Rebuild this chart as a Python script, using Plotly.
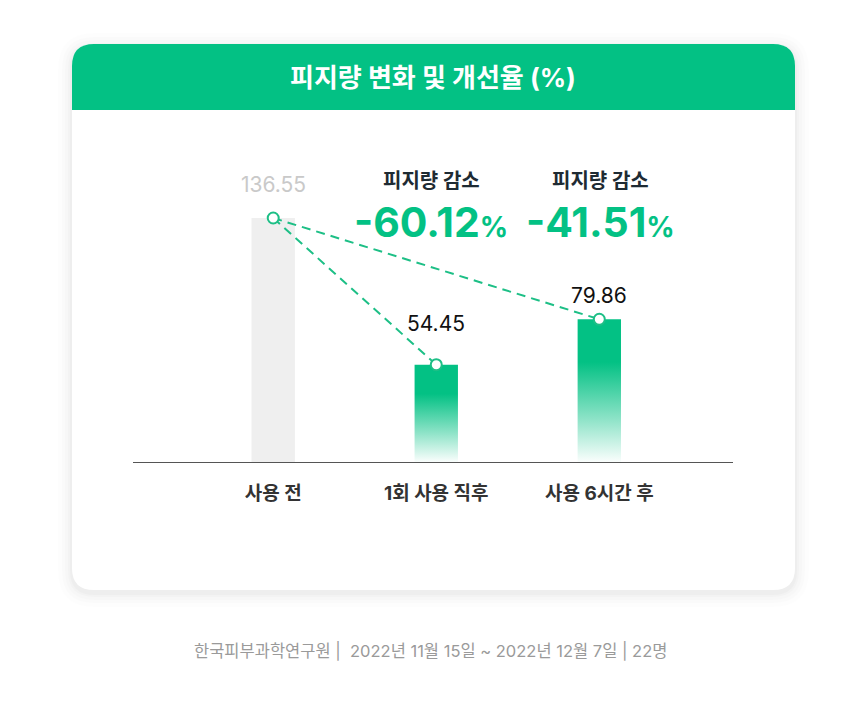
import plotly.graph_objects as go

# data
categories = ["사용 전", "1회 사용 직후", "사용 6시간 후"]
values = [136.55, 54.45, 79.86]
value_labels = ["136.55", "54.45", "79.86"]
reductions = [-60.12, -41.51]
reduction_title = "피지량 감소"
title = "피지량 변화 및 개선율 (%)"
source = "한국피부과학연구원 |  2022년 11월 15일 ~ 2022년 12월 7일 | 22명"

GREEN = "#03C184"
OFF = 8  # page body margin
W, H = 860 - OFF, 718 - OFF
L, T = 133 - OFF, 158 - OFF
PW, PH = 600, 304
R, B = W - L - PW, H - T - PH
FONT = "Inter, Noto Sans CJK KR, sans-serif"


# screen pixel -> paper coords
def px(x):
    return (x - OFF - L) / PW


def py(y):
    return (T + PH - (y - OFF)) / PH


def rrect(x0, y0, x1, y1, r, top=True, bottom=True):
    rt = r if top else 0
    rb = r if bottom else 0
    p = f"M {px(x0 + rt)},{py(y0)} L {px(x1 - rt)},{py(y0)} "
    p += f"Q {px(x1)},{py(y0)} {px(x1)},{py(y0 + rt)} "
    p += f"L {px(x1)},{py(y1 - rb)} Q {px(x1)},{py(y1)} {px(x1 - rb)},{py(y1)} "
    p += f"L {px(x0 + rb)},{py(y1)} Q {px(x0)},{py(y1)} {px(x0)},{py(y1 - rb)} "
    p += f"L {px(x0)},{py(y0 + rt)} Q {px(x0)},{py(y0)} {px(x0 + rt)},{py(y0)} Z"
    return p


fig = go.Figure()

idx = list(range(len(categories)))
hw = 0.133

# bars as filled polygons (first grey, others with a vertical gradient)
for i, v in zip(idx, values):
    xs = [i - hw, i - hw, i + hw, i + hw, i - hw]
    ys = [0, v, v, 0, 0]
    if i == 0:
        fig.add_trace(go.Scatter(x=xs, y=ys, fill="toself", fillcolor="#EFEFEF",
                                 mode="lines", line=dict(width=0), hoverinfo="skip",
                                 showlegend=False))
    else:
        fig.add_trace(go.Scatter(
            x=xs, y=ys, fill="toself", mode="lines", line=dict(width=0),
            fillgradient=dict(type="vertical", colorscale=[
                [0, "rgba(3,193,132,0.02)"],
                [0.3, "rgba(3,193,132,0.45)"],
                [0.7, "rgba(3,193,132,1)"],
                [1, "rgba(3,193,132,1)"]]),
            hoverinfo="skip", showlegend=False))

# dashed connectors from the "before" bar
for i in idx[1:]:
    fig.add_trace(go.Scatter(
        x=[idx[0], i], y=[values[0], values[i]], mode="lines",
        line=dict(color="#1DBF86", width=2, dash="9px,6px"),
        hoverinfo="skip", showlegend=False))

fig.add_trace(go.Scatter(
    x=idx, y=values, mode="markers",
    marker=dict(size=11, color="white", line=dict(color="#1DBF86", width=2)),
    hoverinfo="skip", showlegend=False))

# value labels
label_colors = ["#C9C9C9", "#111111", "#111111"]
label_shift = [19, 27, 9]
for i, v, t, c, s in zip(idx, values, value_labels, label_colors, label_shift):
    fig.add_annotation(x=i, y=v, text=t, showarrow=False, yanchor="bottom",
                       yshift=s, font=dict(size=21, color=c, family=FONT))

# reduction callouts
call_x = [0.97, 2.01]
for cx, r in zip(call_x, reductions):
    fig.add_annotation(x=cx, y=py(181), yref="paper", yanchor="middle",
                       text=reduction_title, showarrow=False,
                       font=dict(size=20, color="#1E2B33", family=FONT, weight=700))
    fig.add_annotation(x=cx, y=py(222), yref="paper", yanchor="middle",
                       text=f"{r:.2f}<span style='font-size:28px'>%</span>",
                       showarrow=False,
                       font=dict(size=41, color=GREEN, family=FONT, weight=700))

# title and source
fig.add_annotation(x=px(433), y=py(77), xref="paper", yref="paper", yanchor="middle",
                   text=title, showarrow=False,
                   font=dict(size=26, color="white", family=FONT, weight=700))
fig.add_annotation(x=px(430), y=py(651), xref="paper", yref="paper", yanchor="middle",
                   text=source, showarrow=False,
                   font=dict(size=16.5, color="#9A9A9A", family=FONT))

# card with soft shadow and green header
shapes = []
for k, op in [(14, 0.008), (10, 0.01), (7, 0.012), (4, 0.015), (2, 0.018)]:
    shapes.append(dict(type="path", xref="paper", yref="paper", layer="below",
                       path=rrect(72 - k, 44 - k + 3, 795 + k, 590 + k + 3, 22 + k),
                       fillcolor=f"rgba(0,0,0,{op})", line=dict(width=0)))
shapes.append(dict(type="path", xref="paper", yref="paper", layer="below",
                   path=rrect(72, 44, 795, 590, 22), fillcolor="white",
                   line=dict(width=0)))
shapes.append(dict(type="path", xref="paper", yref="paper", layer="below",
                   path=rrect(72, 44, 795, 110, 22, bottom=False), fillcolor=GREEN,
                   line=dict(width=0)))

fig.update_layout(
    width=W, height=H,
    margin=dict(l=L, r=R, t=T, b=B),
    paper_bgcolor="white", plot_bgcolor="rgba(0,0,0,0)",
    shapes=shapes,
    font=dict(family=FONT),
    xaxis=dict(range=[-0.86, 2.82], tickvals=idx, ticktext=categories,
               showgrid=False, zeroline=False, showline=True,
               linecolor="#555555", linewidth=1.4, ticks="",
               ticklabelstandoff=14,
               tickfont=dict(size=19, color="#333333", family=FONT, weight=700),
               fixedrange=True),
    yaxis=dict(range=[0, PH / 1.787], visible=False, fixedrange=True),
)

fig.write_html("out.html")
